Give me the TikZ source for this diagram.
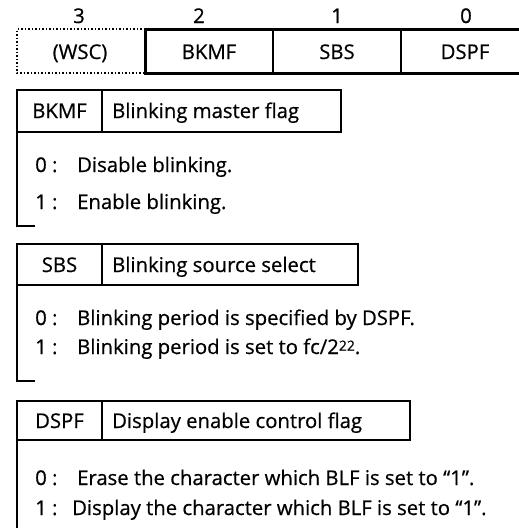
\documentclass[tikz,border=0pt]{standalone}
\usepackage{fontspec}
\setmainfont{Open Sans}[FakeBold=0.6]
\begin{document}
\begin{tikzpicture}[x=1pt,y=-1pt,
  txt/.style={font=\fontsize{20.3}{22}\selectfont, inner sep=0pt},
  hdr/.style={font=\fontsize{20.3}{22}\selectfont, inner sep=0pt},
  thinln/.style={line width=1.5pt},
  thickln/.style={line width=3pt},
  dotln/.style={line width=1.5pt, dotted}]
\clip (0,0) rectangle (519,531);
% bit numbers
\node[hdr, anchor=base] (b3) at (79,23) {3};
\node[hdr, anchor=base] (b2) at (199,23) {2};
\node[hdr, anchor=base] (b1) at (337,23) {1};
\node[hdr, anchor=base] (b0) at (466,23) {0};
% register
\draw[dotln] (145,29) -- (17,29) -- (17,73) -- (145,73);
\draw[thinln] (273,29) -- (273,73);
\draw[thinln] (401,29) -- (401,73);
\draw[thickln] (530,29) -- (145,29) -- (145,73) -- (530,73);
\node[hdr, anchor=base] (wsc) at (80,59) {(WSC)};
\node[hdr, anchor=base] (rbkmf) at (209,59) {BKMF};
\node[hdr, anchor=base] (rsbs) at (337,59) {SBS};
\node[hdr, anchor=base] (rdspf) at (465,59) {DSPF};
% BKMF
\draw[thinln] (17,90) rectangle (341,132);
\draw[thinln] (102,90) -- (102,132);
\draw[thinln] (17,132) -- (17,226) -- (35,226);
\node[txt, anchor=base] (k1) at (59.5,118) {BKMF};
\node[txt, anchor=base west] (k2) at (112,118) {Blinking master flag};
\node[txt, anchor=base west] (k3) at (35,172) {0 :};
\node[txt, anchor=base west] (k4) at (77,172) {Disable blinking.};
\node[txt, anchor=base west] (k5) at (35,209) {1 :};
\node[txt, anchor=base west] (k6) at (77,209) {Enable blinking.};
% SBS
\draw[thinln] (17,244) rectangle (358,285);
\draw[thinln] (102,244) -- (102,285);
\draw[thinln] (17,285) -- (17,381) -- (35,381);
\node[txt, anchor=base] (s1) at (59.5,272) {SBS};
\node[txt, anchor=base west] (s2) at (112,272) {Blinking source select};
\node[txt, anchor=base west] (s3) at (35,325) {0 :};
\node[txt, anchor=base west] (s4) at (77,325) {Blinking period is specified by DSPF.};
\node[txt, anchor=base west] (s5) at (35,354) {1 :};
\node[txt, anchor=base west] (s6) at (77,354) {Blinking period is set to fc/2\raisebox{0.3ex}{\fontsize{14}{14}\selectfont 22}.};
% DSPF
\draw[thinln] (17,401) rectangle (410,440);
\draw[thinln] (102,401) -- (102,440);
\draw[thinln] (17,440) -- (17,528);
\node[txt, anchor=base] (d1) at (59.5,428) {DSPF};
\node[txt, anchor=base west] (d2) at (112,428) {Display enable control flag};
\node[txt, anchor=base west] (d3) at (35,485) {0 :};
\node[txt, anchor=base west] (d4) at (77,485) {Erase the character which BLF is set to “1”.};
\node[txt, anchor=base west] (d5) at (35,515) {1 :};
\node[txt, anchor=base west] (d6) at (72,515) {Display the character which BLF is set to “1”.};
\end{tikzpicture}
\end{document}
